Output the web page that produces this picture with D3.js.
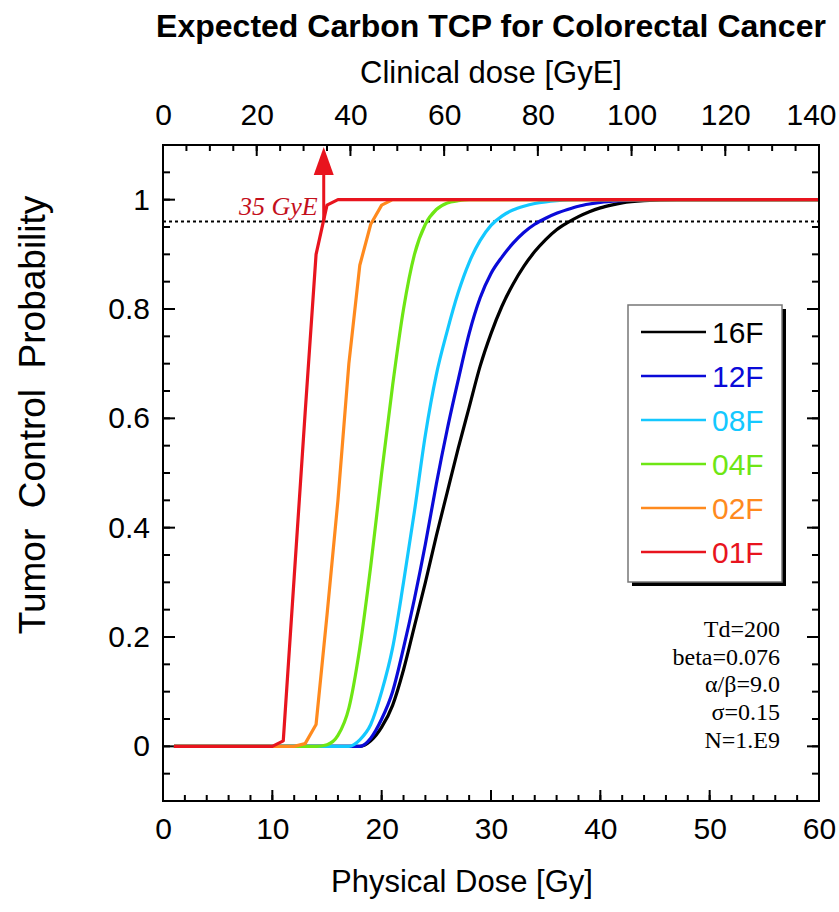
<!DOCTYPE html>
<html>
<head>
<meta charset="utf-8">
<script src="https://cdn.jsdelivr.net/npm/d3@7"></script>
<style>
  body { margin: 0; background: #fff; }
  svg text { font-family: "Liberation Sans", Arial, sans-serif; }
</style>
</head>
<body>
<div id="chartArea"></div>
<script>
// physical dose [Gy] and TCP
const dose16F = [1, 18, 19, 20, 21, 22, 23, 24, 25, 26, 27, 28, 29, 30, 31, 32, 33, 34, 35, 36, 37, 38, 39, 40, 41, 42, 44, 47, 60];
const tcp16F  = [0, 0, 0.01, 0.035, 0.075, 0.14, 0.22, 0.3, 0.385, 0.465, 0.545, 0.62, 0.695, 0.755, 0.805, 0.845, 0.878, 0.905, 0.927, 0.945, 0.958, 0.969, 0.978, 0.985, 0.99, 0.994, 0.998, 1, 1];

const dose12F = [1, 18, 19, 20, 21, 22, 23, 24, 25, 26, 27, 28, 29, 30, 31, 32, 33, 34, 35, 36, 37, 38, 39, 40, 42, 45, 60];
const tcp12F  = [0, 0, 0.015, 0.05, 0.1, 0.18, 0.27, 0.37, 0.48, 0.58, 0.67, 0.755, 0.82, 0.865, 0.895, 0.92, 0.94, 0.955, 0.966, 0.975, 0.982, 0.988, 0.992, 0.995, 0.998, 1, 1];

const dose08F = [1, 17, 18, 19, 20, 21, 22, 23, 24, 25, 26, 27, 28, 29, 30, 31, 32, 33, 34, 35, 36, 38, 60];
const tcp08F  = [0, 0, 0.012, 0.04, 0.1, 0.18, 0.3, 0.43, 0.57, 0.68, 0.76, 0.83, 0.885, 0.925, 0.953, 0.97, 0.981, 0.988, 0.993, 0.996, 0.998, 1, 1];

const dose04F = [1, 14, 15, 16, 17, 18, 19, 20, 21, 22, 23, 24, 25, 26, 27, 28, 60];
const tcp04F  = [0, 0, 0.003, 0.02, 0.07, 0.18, 0.33, 0.5, 0.66, 0.8, 0.9, 0.955, 0.982, 0.994, 0.998, 1, 1];

const dose02F = [1, 12, 13, 14, 15, 16, 17, 18, 19, 20, 21, 60];
const tcp02F  = [0, 0, 0.005, 0.04, 0.24, 0.45, 0.7, 0.88, 0.955, 0.99, 1, 1];

const dose01F = [1, 10, 11, 12, 13, 14, 15, 16, 60];
const tcp01F  = [0, 0, 0.01, 0.31, 0.61, 0.9, 0.99, 1, 1];

const seriesLabels = ['16F', '12F', '08F', '04F', '02F', '01F'];
const seriesColors = ['#000000', '#0a0ad8', '#14c8ff', '#6ee614', '#ff8a1e', '#e8141e'];

const yTickValues = [0, 0.2, 0.4, 0.6, 0.8, 1];
const xTickValues = [0, 10, 20, 30, 40, 50, 60];
const topTickValues = [0, 20, 40, 60, 80, 100, 120, 140];

const tcpTarget = 0.96;     // dotted level
const arrowDose = 14.7;     // where 01F crosses the dotted level
const arrowLabel = '35 GyE';
const paramLines = ['Td=200', 'beta=0.076', 'α/β=9.0', 'σ=0.15', 'N=1.E9'];

const series = seriesLabels.map((label, i) => ({
    label: label,
    color: seriesColors[i],
    dose: [dose16F, dose12F, dose08F, dose04F, dose02F, dose01F][i],
    tcp: [tcp16F, tcp12F, tcp08F, tcp04F, tcp02F, tcp01F][i],
    // the few-fraction curves have visible corners in the original
    smooth: i < 4
}));

let margins = { top: 145, right: 20, bottom: 111, left: 163 };
let width = 839, height = 912;
let plotW = width - margins.left - margins.right,
    plotH = height - margins.top - margins.bottom;

let svg = d3.select('#chartArea')
    .append('svg')
    .attr('width', width)
    .attr('height', height);

let chart = svg.append('g')
    .attr('transform', 'translate(' + margins.left + ',' + margins.top + ')');

let xScale = d3.scaleLinear().domain([0, 60]).range([0, plotW]);
let xTop = d3.scaleLinear().domain([0, 140]).range([0, plotW]);
let yScale = d3.scaleLinear().domain([-0.1, 1.1]).range([plotH, 0]);

chart.append('clipPath').attr('id', 'plotClip')
    .append('rect').attr('width', plotW).attr('height', plotH);

// ticks pointing inward on all four sides
function ticks(axis, scale, values, len) {
    let g = chart.append('g').attr('class', 'ticks');
    values.forEach(v => {
        let p = scale(v);
        if (axis === 'bottom') g.append('line').attr('x1', p).attr('x2', p).attr('y1', plotH).attr('y2', plotH - len);
        if (axis === 'top') g.append('line').attr('x1', p).attr('x2', p).attr('y1', 0).attr('y2', len);
        if (axis === 'left') g.append('line').attr('x1', 0).attr('x2', len).attr('y1', p).attr('y2', p);
        if (axis === 'right') g.append('line').attr('x1', plotW).attr('x2', plotW - len).attr('y1', p).attr('y2', p);
    });
    g.selectAll('line').attr('stroke', '#000').attr('stroke-width', 2);
}

ticks('bottom', xScale, d3.range(0, 61, 2), 6);
ticks('bottom', xScale, xTickValues, 11);
ticks('top', xTop, d3.range(0, 141, 5), 6);
ticks('top', xTop, topTickValues, 11);
ticks('left', yScale, d3.range(-0.1, 1.1001, 0.05), 7);
ticks('left', yScale, yTickValues, 12);
ticks('right', yScale, d3.range(-0.1, 1.1001, 0.05), 7);
ticks('right', yScale, yTickValues, 12);

// tick labels via d3 axes, ticks hidden
chart.append('g')
    .attr('transform', 'translate(0,' + plotH + ')')
    .call(d3.axisBottom(xScale).tickValues(xTickValues).tickSize(0).tickPadding(17).tickFormat(d3.format('d')))
    .call(g => g.select('.domain').remove())
    .selectAll('text').style('font-size', '30px').attr('fill', '#000');

chart.append('g')
    .call(d3.axisTop(xTop).tickValues(topTickValues).tickSize(0).tickPadding(20).tickFormat(d3.format('d')))
    .call(g => g.select('.domain').remove())
    .selectAll('text').style('font-size', '30px').attr('fill', '#000')
    // keep the last label inside the page
    .attr('dx', d => d === 140 ? -8 : 0);

chart.append('g')
    .call(d3.axisLeft(yScale).tickValues(yTickValues).tickSize(0).tickPadding(13).tickFormat(d => d === 0 || d === 1 ? d : d.toFixed(1)))
    .call(g => g.select('.domain').remove())
    .selectAll('text').style('font-size', '30px').attr('fill', '#000');

// dotted reference level
chart.append('line')
    .attr('x1', 0).attr('x2', plotW)
    .attr('y1', yScale(tcpTarget)).attr('y2', yScale(tcpTarget))
    .attr('stroke', '#000')
    .attr('stroke-width', 2)
    .attr('stroke-dasharray', '3,3');

// the curves
let curves = chart.append('g').attr('clip-path', 'url(#plotClip)');
series.forEach(s => {
    let line = d3.line()
        .x(d => xScale(d[0]))
        .y(d => yScale(d[1]))
        .curve(s.smooth ? d3.curveMonotoneX : d3.curveLinear);
    curves.append('path')
        .attr('d', line(d3.zip(s.dose, s.tcp)))
        .attr('fill', 'none')
        .attr('stroke', s.color)
        .attr('stroke-width', 3.2)
        .attr('stroke-linejoin', 'round');
});

// arrow up to the clinical dose axis
let ax = xScale(arrowDose);
chart.append('line')
    .attr('x1', ax).attr('x2', ax)
    .attr('y1', yScale(tcpTarget)).attr('y2', 28)
    .attr('stroke', '#e8141e')
    .attr('stroke-width', 3);
chart.append('path')
    .attr('d', 'M' + (ax - 10) + ',30 L' + ax + ',2 L' + (ax + 10) + ',30 Z')
    .attr('fill', '#e8141e');

chart.append('text')
    .attr('x', ax - 6)
    .attr('y', 70)
    .attr('text-anchor', 'end')
    .style('font-family', '"Liberation Serif", "Times New Roman", serif')
    .style('font-style', 'italic')
    .style('font-size', '26px')
    .attr('fill', '#c4101c')
    .text(arrowLabel);

// frame
chart.append('rect')
    .attr('width', plotW).attr('height', plotH)
    .attr('fill', 'none')
    .attr('stroke', '#000')
    .attr('stroke-width', 2);

// legend
let legend = svg.append('g').attr('transform', 'translate(628,305)');
legend.append('rect')
    .attr('x', 4).attr('y', 4).attr('width', 154).attr('height', 277)
    .attr('fill', '#000');
legend.append('rect')
    .attr('width', 154).attr('height', 277)
    .attr('fill', '#fff')
    .attr('stroke', '#777')
    .attr('stroke-width', 1.5);

series.forEach((s, i) => {
    let yy = 27 + i * 44;
    legend.append('line')
        .attr('x1', 13).attr('x2', 78)
        .attr('y1', yy).attr('y2', yy)
        .attr('stroke', s.color)
        .attr('stroke-width', 2.5);
    legend.append('text')
        .attr('x', 84).attr('y', yy + 11)
        .style('font-size', '30px')
        .attr('fill', s.color)
        .text(s.label);
});

// model parameters
svg.append('g').selectAll('text')
    .data(paramLines)
    .enter().append('text')
    .attr('x', 780)
    .attr('y', (d, i) => 637 + i * 27.7)
    .attr('text-anchor', 'end')
    .style('font-family', '"Liberation Serif", "Times New Roman", serif')
    .style('font-size', '24px')
    .attr('fill', '#000')
    .text(d => d);

// titles
svg.append('text')
    .attr('x', 491).attr('y', 37)
    .attr('text-anchor', 'middle')
    .style('font-size', '32px')
    .style('font-weight', 'bold')
    .text('Expected Carbon TCP for Colorectal Cancer');

svg.append('text')
    .attr('x', 491).attr('y', 83)
    .attr('text-anchor', 'middle')
    .style('font-size', '31px')
    .text('Clinical dose [GyE]');

svg.append('text')
    .attr('x', 462).attr('y', 892)
    .attr('text-anchor', 'middle')
    .style('font-size', '31px')
    .text('Physical Dose [Gy]');

svg.append('text')
    .attr('transform', 'translate(45,415) rotate(-90)')
    .attr('text-anchor', 'middle')
    .style('font-size', '37px')
    .style('white-space', 'pre')
    .text('Tumor  Control  Probability');
</script>
</body>
</html>
